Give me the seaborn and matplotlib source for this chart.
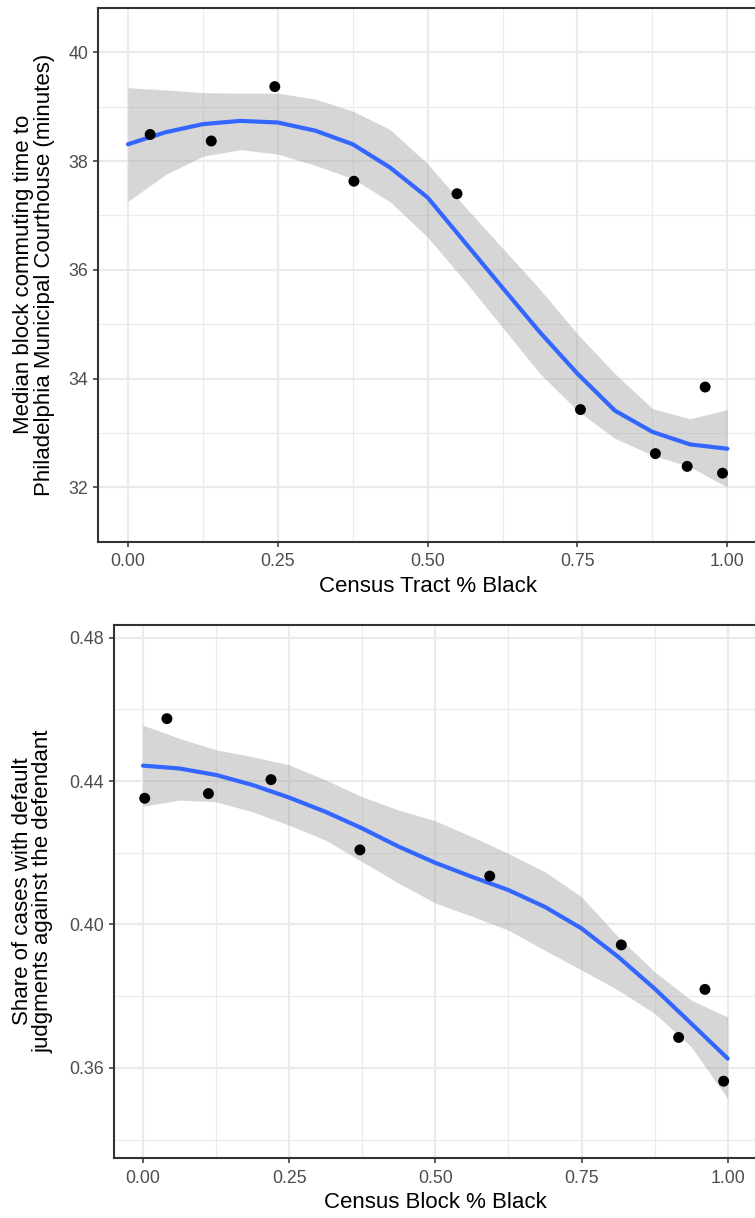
import numpy as np
import pandas as pd
import matplotlib
matplotlib.use("Agg")
import matplotlib.pyplot as plt
import seaborn as sns

# ---------------- data ----------------
tract_pct_black = [0.037, 0.139, 0.245, 0.377, 0.549, 0.755, 0.880, 0.933, 0.963, 0.992]
commute_minutes = [38.49, 38.37, 39.37, 37.63, 37.40, 33.43, 32.62, 32.385, 33.845, 32.26]

block_pct_black = [0.003, 0.041, 0.112, 0.219, 0.371, 0.593, 0.818, 0.916, 0.961, 0.993]
default_share = [0.4352, 0.4574, 0.4365, 0.4404, 0.4208, 0.4135, 0.3943, 0.3685, 0.3819, 0.3563]

smooth_x = [0, 0.0625, 0.125, 0.1875, 0.25, 0.3125, 0.375, 0.4375, 0.5,
            0.5625, 0.625, 0.6875, 0.75, 0.8125, 0.875, 0.9375, 1.0]
commute_fit = [38.31, 38.53, 38.68, 38.74, 38.71, 38.56, 38.31, 37.88, 37.33,
               36.50, 35.67, 34.85, 34.09, 33.41, 33.02, 32.79, 32.71]
commute_hi = [39.35, 39.31, 39.26, 39.25, 39.25, 39.14, 38.92, 38.58, 37.95,
              37.16, 36.40, 35.64, 34.82, 34.09, 33.45, 33.26, 33.43]
commute_lo = [37.26, 37.75, 38.09, 38.21, 38.13, 37.92, 37.68, 37.25, 36.60,
              35.79, 34.94, 34.09, 33.41, 32.90, 32.59, 32.38, 32.00]

default_fit = [0.4443, 0.4435, 0.4417, 0.4389, 0.4354, 0.4314, 0.4268, 0.4217, 0.4172,
               0.4133, 0.4096, 0.4049, 0.3989, 0.3910, 0.3821, 0.3724, 0.3626]
default_hi = [0.4556, 0.4519, 0.4487, 0.4468, 0.4445, 0.4403, 0.4356, 0.4319, 0.4289,
              0.4245, 0.4198, 0.4147, 0.4077, 0.3966, 0.3868, 0.3789, 0.3742]
default_lo = [0.4330, 0.4347, 0.4342, 0.4314, 0.4277, 0.4235, 0.4175, 0.4115, 0.4060,
              0.4023, 0.3984, 0.3928, 0.3873, 0.3817, 0.3752, 0.3659, 0.3514]

x_ticks = [0.0, 0.25, 0.5, 0.75, 1.0]
x_ticklabels = ["0.00", "0.25", "0.50", "0.75", "1.00"]
top_yticks = [32, 34, 36, 38, 40]
top_yticklabels = ["32", "34", "36", "38", "40"]
bot_yticks = [0.36, 0.40, 0.44, 0.48]
bot_yticklabels = ["0.36", "0.40", "0.44", "0.48"]

top_xlabel = "Census Tract % Black"
top_ylabel = "Median block commuting time to\nPhiladelphia Municipal Courthouse (minutes)"
bot_xlabel = "Census Block % Black"
bot_ylabel = "Share of cases with default\njudgments against the defendant"

# ---------------- style ----------------
sns.set_theme(style="white")
plt.rcParams["font.family"] = ["Liberation Sans", "DejaVu Sans"]

BLUE = "#3366FF"
GRID = "#EBEBEB"
BORDER = "#333333"
TICKTXT = "#4D4D4D"

fig = plt.figure(figsize=(7.55, 12.18), dpi=100)
ax1 = fig.add_axes([98 / 755, 1 - 541.7 / 1218, (757.3 - 98) / 755, (541.7 - 8) / 1218])
ax2 = fig.add_axes([113.7 / 755, 1 - 1158.3 / 1218, (757.0 - 113.7) / 755, (1158.3 - 624.7) / 1218])


def draw(ax, px, py, fit, lo, hi, xlim, ylim, yticks, yticklabels, yminor, xlabel, ylabel, ylab_x):
    ax.fill_between(smooth_x, lo, hi, color="#999999", alpha=0.4, linewidth=0, zorder=2)
    sns.lineplot(x=smooth_x, y=fit, ax=ax, color=BLUE, linewidth=3.0, zorder=3)
    sns.scatterplot(x=px, y=py, ax=ax, color="black", s=62, edgecolor="none", zorder=4)
    ax.set_xlim(*xlim)
    ax.set_ylim(*ylim)
    ax.set_xticks(x_ticks)
    ax.set_xticklabels(x_ticklabels)
    ax.set_yticks(yticks)
    ax.set_yticklabels(yticklabels)
    ax.set_xticks([0.125, 0.375, 0.625, 0.875], minor=True)
    ax.set_yticks(yminor, minor=True)
    ax.grid(True, which="major", color=GRID, linewidth=1.55, zorder=0)
    ax.grid(True, which="minor", color=GRID, linewidth=0.8, zorder=0)
    ax.set_axisbelow(True)
    ax.tick_params(which="major", length=3.8, width=1.1, color=BORDER, labelsize=12.8,
                   labelcolor=TICKTXT, pad=3, bottom=True, left=True)
    ax.tick_params(axis="x", which="major", pad=4.5)
    ax.tick_params(which="minor", length=0, bottom=False, left=False)
    for s in ax.spines.values():
        s.set_color(BORDER)
        s.set_linewidth(1.5)
        s.set_visible(True)
    ax.set_xlabel(xlabel, fontsize=16, color="black", labelpad=4)
    ax.set_ylabel(ylabel, fontsize=16, color="black", ha="center", va="center",
                  linespacing=0.95)
    ax.yaxis.set_label_coords(ylab_x, 0.5)


draw(ax1, tract_pct_black, commute_minutes, commute_fit, commute_lo, commute_hi,
     (-0.05, 1.05), (31.075, 40.816), top_yticks, top_yticklabels,
     [31, 33, 35, 37, 39], top_xlabel, top_ylabel, -0.097)
draw(ax2, block_pct_black, default_share, default_fit, default_lo, default_hi,
     (-0.05, 1.05), (0.3348, 0.4836), bot_yticks, bot_yticklabels,
     [0.34, 0.38, 0.42, 0.46], bot_xlabel, bot_ylabel, -0.1254)

fig.savefig("out.png", dpi=100)
